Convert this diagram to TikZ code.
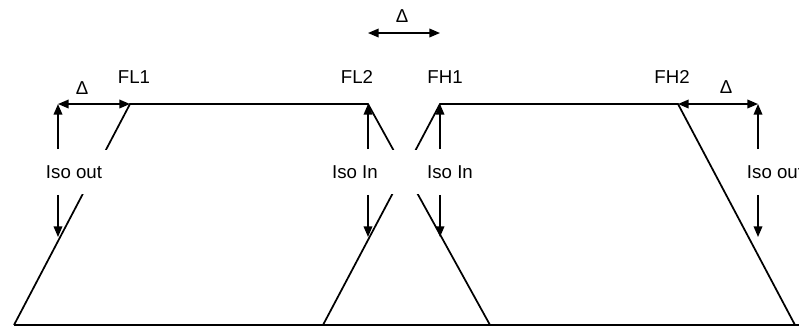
\documentclass[tikz,border=0pt]{standalone}
\usepackage{fontspec}
\setmainfont{Liberation Sans}
\usetikzlibrary{arrows.meta}

\tikzset{
  iso/.style={-{Triangle[length=8pt,width=6.5pt]}},
  delta/.style={{Triangle[length=8pt,width=6.5pt]}-{Triangle[length=8pt,width=6.5pt]}}
}

\begin{document}
\begin{tikzpicture}[x=0.75pt,y=-0.75pt,line width=1.3pt]

        \useasboundingbox (0,0) rectangle (799,326);

        % corners of the two passbands
        \coordinate (bl1) at (14,325);
        \coordinate (fl1) at (130,104);
        \coordinate (fl2) at (368,104);
        \coordinate (bl2) at (490,325);
        \coordinate (bh1) at (323,325);
        \coordinate (fh1) at (440,104);
        \coordinate (fh2) at (678,104);
        \coordinate (bh2) at (795,325);
        \coordinate (end) at (799,325);
        \coordinate (ol)  at (58,104);
        \coordinate (oh)  at (758,104);
        \coordinate (dl)  at (368,33);
        \coordinate (dh)  at (440,33);
        \coordinate (sl)  at (58,237);
        \coordinate (si1) at (368,237);
        \coordinate (si2) at (440,237);
        \coordinate (sh)  at (758,237);

        \draw (bl1) -- (fl1) -- (fl2) -- (bl2);
        \draw (bh1) -- (fh1) -- (fh2) -- (bh2);
        \draw (bl1) -- (end);

        \begin{scope}[every node/.style={font=\fontsize{14}{16}\selectfont}]
          \node (nfl1) at (134,77) {FL1};
          \node (nfl2) at (357,77) {FL2};
          \node (nfh1) at (445,77) {FH1};
          \node (nfh2) at (672,77) {FH2};
          \node (d1)   at (402,16) {Δ};
          \node (d2)   at (82,88)  {Δ};
          \node (d3)   at (726,87) {Δ};
        \end{scope}

        \begin{scope}[every node/.style={fill=white, inner sep=0pt, minimum width=72pt,
            minimum height=33pt, font=\fontsize{14}{16}\selectfont}]
          \node (iol) at (74,172)  {Iso out};
          \node (iil) at (355,172) {Iso In};
          \node (iih) at (450,172) {Iso In};
          \node (ioh) at (775,172) {Iso out};
        \end{scope}

        \begin{scope}[line width=1.1pt]

          \begin{scope}[every edge/.style={draw, iso}]
            \path (iol.north -| ol)  edge (ol);
            \path (iol.south -| ol)  edge (sl);
            \path (iil.north -| fl2) edge (fl2);
            \path (iil.south -| fl2) edge (si1);
            \path (iih.north -| fh1) edge (fh1);
            \path (iih.south -| fh1) edge (si2);
            \path (ioh.north -| oh)  edge (oh);
            \path (ioh.south -| oh)  edge (sh);
          \end{scope}

          \begin{scope}[every edge/.style={draw, delta}]
            \path (dl)  edge (dh);
            \path (ol)  edge (fl1);
            \path (fh2) edge (oh);
          \end{scope}
        \end{scope}

      \end{tikzpicture}
\end{document}
